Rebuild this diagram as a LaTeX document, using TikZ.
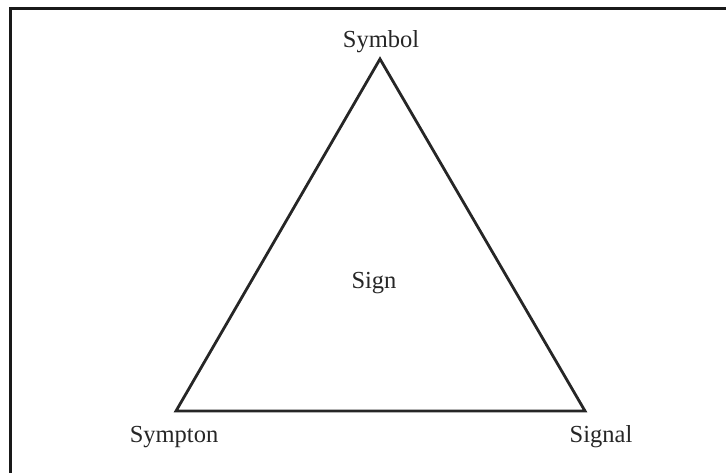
\documentclass[tikz,border=0pt]{standalone}
\usepackage{fontspec}
\setmainfont{Liberation Serif}
\begin{document}
\begin{tikzpicture}[x=1pt,y=-1pt,
  lbl/.style={font=\fontsize{24.5}{28}\selectfont, anchor=base, inner sep=0pt, text=black!85},
  tri/.style={line width=2.8pt, line join=miter, draw=black!85},
  frame/.style={line width=3.2pt, draw=black!90}]
\useasboundingbox (0,0) rectangle (726,473);
\draw[frame] (10.5,473) -- (10.5,8.5) -- (726,8.5);
\coordinate (top) at (380,59);
\coordinate (bl) at (176,411);
\coordinate (br) at (585,411);
\draw[tri] (top) -- (bl) -- (br) -- cycle;
\node[lbl] (symbol) at (381,48) {Symbol};
\node[lbl] (sign) at (374,289) {Sign};
\node[lbl] (sympton) at (174,442) {Sympton};
\node[lbl] (signal) at (601,442) {Signal};
\end{tikzpicture}
\end{document}
